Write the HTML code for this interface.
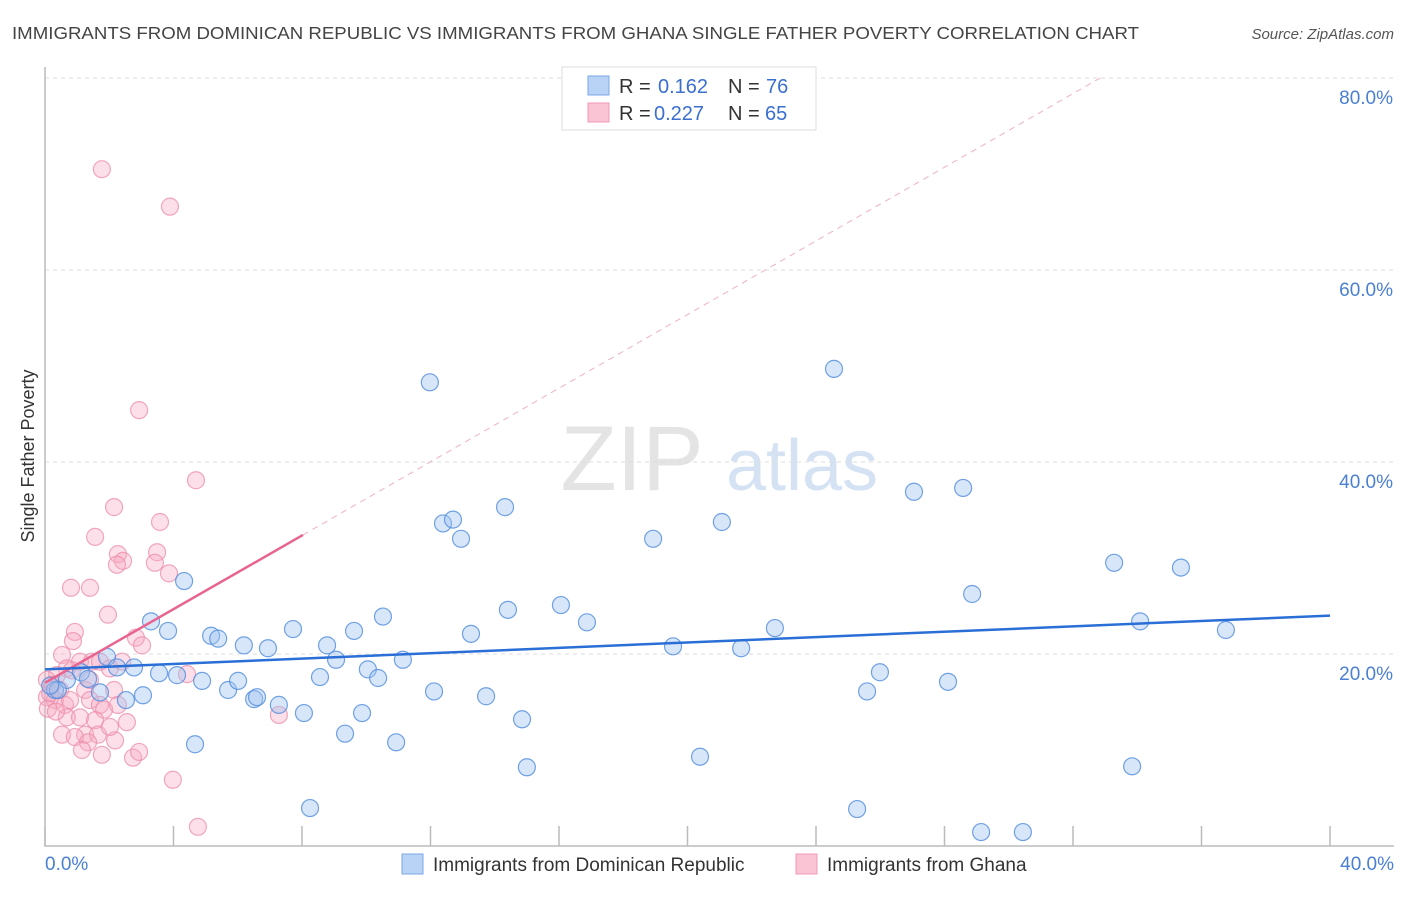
<!DOCTYPE html>
<html><head><meta charset="utf-8"><style>
body{margin:0;background:#fff;font-family:"Liberation Sans",sans-serif;}
svg text{font-family:"Liberation Sans",sans-serif;}
</style></head><body>
<svg id="c" width="1406" height="892">
<text x="12" y="39" font-size="17.5" fill="#444" textLength="1127" lengthAdjust="spacingAndGlyphs">IMMIGRANTS FROM DOMINICAN REPUBLIC VS IMMIGRANTS FROM GHANA SINGLE FATHER POVERTY CORRELATION CHART</text>
<text x="1394" y="39" font-size="15" fill="#555" font-style="italic" text-anchor="end">Source: ZipAtlas.com</text>
<text x="34" y="456" font-size="18" fill="#333" text-anchor="middle" transform="rotate(-90 34 456)">Single Father Poverty</text>
<g><text x="632" y="490" font-size="92" fill="#e4e4e4" font-family="Liberation Serif" text-anchor="middle">ZIP</text><text x="802" y="490" font-size="72" fill="#d4e2f4" text-anchor="middle">atlas</text></g>
<g id="grid"></g><g id="axes"></g><g id="marks"></g><g id="lines"></g>
<g>
<rect x="562" y="67" width="254" height="63" fill="#fff" stroke="#ddd"/>
<rect x="588" y="76" width="21" height="19" fill="#b8d3f5" stroke="#7aa8e6"/>
<rect x="588" y="103" width="21" height="19" fill="#fac4d4" stroke="#f09ab4"/>
<text x="619" y="93" font-size="20" fill="#333">R =</text>
<text x="658" y="93" font-size="20" fill="#3a6fd0">0.162</text>
<text x="728" y="93" font-size="20" fill="#333">N =</text>
<text x="766" y="93" font-size="20" fill="#3a6fd0">76</text>
<text x="619" y="120" font-size="20" fill="#333">R =</text>
<text x="654" y="120" font-size="20" fill="#3a6fd0">0.227</text>
<text x="728" y="120" font-size="20" fill="#333">N =</text>
<text x="765" y="120" font-size="20" fill="#3a6fd0">65</text>
</g>
<g>
<rect x="402" y="854" width="21" height="20" fill="#b8d3f5" stroke="#7aa8e6"/>
<text x="433" y="871" font-size="19" fill="#333">Immigrants from Dominican Republic</text>
<rect x="796" y="854" width="21" height="20" fill="#fac4d4" stroke="#f09ab4"/>
<text x="827" y="871" font-size="19" fill="#333">Immigrants from Ghana</text>
</g>
</svg>
<script>
const yTicks=[20,40,60,80];
const xTickVals=[0,4,8,12,16,20,24,28,32,36,40];
const xLabels=["0.0%","40.0%"];
const blueX=[11.98,24.56,27.05,28.58,12.39,12.70,12.95,14.32,18.93,21.07,33.28,35.36,4.33,3.30,3.83,5.17,5.39,6.19,6.94,7.72,8.78,9.62,10.52,14.41,16.06,16.87,13.26,19.55,21.67,22.72,28.86,34.09,36.76,1.93,2.24,2.77,3.55,4.11,4.89,5.70,6.01,6.51,6.60,7.28,8.06,8.56,9.06,10.05,10.37,11.14,12.11,13.73,9.87,14.85,15.00,10.93,9.34,4.67,20.39,25.99,25.59,28.11,33.84,25.28,8.25,29.14,30.44,1.12,0.68,0.31,1.34,1.71,2.52,3.05,0.40,0.16];
const blueY=[48.3,49.7,36.9,37.3,33.6,34.0,32.0,35.3,32.0,33.75,29.5,29.0,27.6,23.4,22.4,21.9,21.6,20.9,20.6,22.6,20.9,22.4,23.9,24.6,25.1,23.3,22.1,20.8,20.6,22.7,26.25,23.4,22.5,19.7,18.6,18.6,18.0,17.8,17.2,16.25,17.2,15.3,15.5,14.7,13.85,17.6,19.4,18.4,17.5,19.4,16.1,15.6,13.85,13.2,8.2,10.8,11.7,10.6,9.3,18.1,16.1,17.1,8.3,3.85,3.95,1.45,1.45,18.1,17.3,16.25,17.4,16.0,15.2,15.7,16.25,16.7];
const pinkX=[1.77,3.89,2.93,4.70,2.15,3.58,1.56,2.27,3.49,2.43,2.24,3.42,3.86,0.81,1.40,1.96,0.93,2.83,3.02,0.87,0.53,1.09,1.46,1.71,2.02,2.40,0.68,0.37,0.06,0.22,0.47,0.06,0.31,0.62,1.25,2.15,1.40,1.71,1.84,2.27,0.68,1.09,1.56,2.55,0.53,1.25,0.93,1.65,1.34,2.18,1.15,1.77,2.74,2.93,3.98,4.76,4.42,7.28,0.16,0.09,0.78,0.34,2.02,1.40,0.84];
const pinkY=[70.5,66.6,45.4,38.1,35.3,33.75,32.2,30.4,30.6,29.7,29.3,29.5,28.4,26.9,26.9,24.1,22.3,21.7,20.9,21.35,19.9,19.2,19.2,19.2,18.5,19.2,18.5,17.8,17.3,16.8,16.25,15.5,15.2,14.7,16.25,16.25,15.2,14.7,14.2,14.7,13.4,13.4,13.1,12.9,11.6,11.6,11.35,11.6,10.8,11.0,10.0,9.5,9.2,9.8,6.9,2.0,17.9,13.65,15.9,14.3,15.2,14.0,12.4,17.3,18.3];
const blueLine=[18.4,24.0];
const pinkFit=[17.0,1.918];
const pinkSolidEnd=8.03;
const NS='http://www.w3.org/2000/svg';
const X=v=>45+v*32.125, Y=v=>846-v*9.6;
function mk(t,p,a){const e=document.createElementNS(NS,t);for(const k in a)e.setAttribute(k,a[k]);p.appendChild(e);return e;}
const grid=document.getElementById('grid'),axes=document.getElementById('axes'),marks=document.getElementById('marks'),lines=document.getElementById('lines');
yTicks.forEach(v=>{
 const l=mk('line',grid,{x1:45,x2:1394,y1:Y(v),y2:Y(v),stroke:'#ddd','stroke-dasharray':'4,4'});
 
 
 const t=mk('text',grid,{x:1393,y:Y(v)+26,'font-size':19,fill:'#4a7fd4','text-anchor':'end'});
 t.textContent=v.toFixed(1)+'%';
 
 
});
const ax=mk('path',axes,{d:'M45,67V846H1394',stroke:'#bbb',fill:'none','stroke-width':1.5});


xTickVals.forEach(v=>{
 const l=mk('line',axes,{x1:X(v),x2:X(v),y1:826,y2:846,stroke:'#bbb','stroke-width':1.5});
 
 
});
[[0,xLabels[0],'start',45],[40,xLabels[1],'end',1394]].forEach(([v,s,a,px])=>{
 const t=mk('text',axes,{x:px,y:870,'font-size':19,fill:'#4a7fd4','text-anchor':a});
 t.textContent=s;
 
 
});
pinkX.forEach((v,i)=>{
 const c=mk('circle',marks,{cx:X(v),cy:Y(pinkY[i]),r:8.5,fill:'rgba(246,170,195,0.38)',stroke:'rgba(236,140,170,0.75)','stroke-width':1.2});
 
 
});
blueX.forEach((v,i)=>{
 const c=mk('circle',marks,{cx:X(v),cy:Y(blueY[i]),r:8.5,fill:'rgba(160,196,240,0.42)',stroke:'rgba(80,140,220,0.8)','stroke-width':1.2});
 
 
});
const xEnd=(80-pinkFit[0])/pinkFit[1];
const pd=mk('line',lines,{x1:X(pinkSolidEnd),y1:Y(pinkFit[0]+pinkFit[1]*pinkSolidEnd),x2:X(xEnd),y2:Y(80),stroke:'#f0b0c4','stroke-dasharray':'6,5','stroke-width':1});


const ps=mk('line',lines,{x1:X(0),y1:Y(pinkFit[0]),x2:X(pinkSolidEnd),y2:Y(pinkFit[0]+pinkFit[1]*pinkSolidEnd),stroke:'#e8648e','stroke-width':2.5});


const bl=mk('line',lines,{x1:X(0),y1:Y(blueLine[0]),x2:X(40),y2:Y(blueLine[1]),stroke:'#2a6fd6','stroke-width':2.5});


</script>
</body></html>
